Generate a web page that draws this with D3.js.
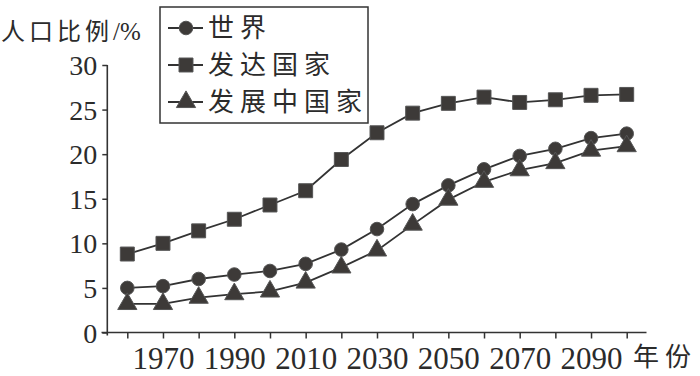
<!DOCTYPE html>
<html>
<head>
<meta charset="utf-8">
<script src="https://cdn.jsdelivr.net/npm/d3@7/dist/d3.min.js"></script>
<style>
  body { margin: 0; background: #fff; }
  svg { display: block; }
  .num { font-family: "Liberation Serif", "DejaVu Serif", serif; fill: #2b2b2b; }
  .cjk { font-family: "Noto Sans CJK SC", sans-serif; fill: #2b2b2b; }
</style>
</head>
<body>
<svg id="chart" width="700" height="376"></svg>
<script>
// 年份与三条曲线（人口比例 %）
var years = [1960, 1970, 1980, 1990, 2000, 2010, 2020, 2030, 2040, 2050, 2060, 2070, 2080, 2090, 2100];
var world = [5.0, 5.2, 6.0, 6.5, 6.9, 7.7, 9.3, 11.6, 14.4, 16.5, 18.3, 19.8, 20.6, 21.8, 22.3];
var developed = [8.8, 10.0, 11.4, 12.7, 14.3, 15.9, 19.4, 22.4, 24.6, 25.7, 26.4, 25.8, 26.1, 26.6, 26.7];
var developing = [3.2, 3.2, 3.9, 4.3, 4.6, 5.6, 7.3, 9.2, 12.1, 14.9, 16.9, 18.2, 19.0, 20.4, 20.9];

var xLabels = [1970, 1990, 2010, 2030, 2050, 2070, 2090];
var yTicks = [0, 5, 10, 15, 20, 25, 30];
var seriesNames = ['世界', '发达国家', '发展中国家'];

var ink = '#333';

var svg = d3.select('#chart');

var x = d3.scaleLinear().domain([1960, 2100]).range([127.3, 626.7]);
var y = d3.scaleLinear().domain([0, 30]).range([332.5, 65]);

// 坐标轴
var xAxis = d3.axisBottom(x)
	.tickValues(years)
	.tickSize(6)
	.tickPadding(6)
	.tickFormat(function (d) { return xLabels.indexOf(d) >= 0 ? d : ''; });

var gx = svg.append('g')
	.attr('transform', 'translate(0,' + y(0) + ')')
	.call(xAxis);
gx.select('.domain').remove();
gx.selectAll('line').attr('stroke', ink).attr('stroke-width', 1.5);
gx.selectAll('text')
	.attr('class', 'num')
	.attr('font-size', 31)
	.attr('dy', '0.78em');

svg.append('line')
	.attr('x1', 101.5).attr('x2', 646.5)
	.attr('y1', y(0)).attr('y2', y(0))
	.attr('stroke', ink).attr('stroke-width', 1.6);

var yAxis = d3.axisLeft(y)
	.tickValues(yTicks)
	.tickSize(5)
	.tickPadding(5);

var gy = svg.append('g')
	.attr('transform', 'translate(107.3,0)')
	.call(yAxis);
gy.select('.domain').remove();
gy.selectAll('line').attr('stroke', ink).attr('stroke-width', 1.5);
gy.selectAll('text')
	.attr('class', 'num')
	.attr('font-size', 28)
	.attr('dy', '0.34em');

svg.append('line')
	.attr('x1', 107.3).attr('x2', 107.3)
	.attr('y1', y(30)).attr('y2', y(0) + 3)
	.attr('stroke', ink).attr('stroke-width', 1.6);

// 轴标题
var yt = svg.append('text')
	.attr('x', 1).attr('y', 40);
yt.append('tspan').attr('class', 'cjk').attr('font-size', 24).attr('letter-spacing', 4).text('人口比例');
yt.append('tspan').attr('class', 'num').attr('font-size', 25).text('/%');

svg.append('text')
	.attr('class', 'cjk')
	.attr('x', 633).attr('y', 366)
	.attr('font-size', 26)
	.attr('letter-spacing', 6)
	.text('年份');

// 折线和标记
var line = d3.line()
	.x(function (d, i) { return x(years[i]); })
	.y(function (d) { return y(d); });

var symbols = [d3.symbolCircle, d3.symbolSquare, d3.symbolTriangle];
var sizes = [145, 195, 160];
var data = [world, developed, developing];

data.forEach(function (s, k) {
	svg.append('path')
		.datum(s)
		.attr('d', line)
		.attr('fill', 'none')
		.attr('stroke', ink)
		.attr('stroke-width', 1.8);

	svg.append('g').selectAll('path')
		.data(s)
		.enter()
		.append('path')
		.attr('d', d3.symbol().type(symbols[k]).size(sizes[k]))
		.attr('transform', function (d, i) { return 'translate(' + x(years[i]) + ',' + y(d) + ')'; })
		.attr('fill', '#3d3a38')
		.attr('stroke', '#555')
		.attr('stroke-width', 1);
});

// 图例
var legend = svg.append('g');
legend.append('rect')
	.attr('x', 160).attr('y', 7)
	.attr('width', 208).attr('height', 116)
	.attr('fill', '#fff')
	.attr('stroke', ink)
	.attr('stroke-width', 1.5);

var rowY = [28, 65, 102];
seriesNames.forEach(function (name, k) {
	legend.append('line')
		.attr('x1', 168).attr('x2', 203)
		.attr('y1', rowY[k]).attr('y2', rowY[k])
		.attr('stroke', ink).attr('stroke-width', 1.8);
	legend.append('path')
		.attr('d', d3.symbol().type(symbols[k]).size(sizes[k]))
		.attr('transform', 'translate(186,' + rowY[k] + ')')
		.attr('fill', '#3d3a38')
		.attr('stroke', '#555')
		.attr('stroke-width', 1);
	legend.append('text')
		.attr('class', 'cjk')
		.attr('x', 208).attr('y', rowY[k])
		.attr('dy', '0.36em')
		.attr('font-size', 26)
		.attr('letter-spacing', 6)
		.text(name);
});
</script>
</body>
</html>
